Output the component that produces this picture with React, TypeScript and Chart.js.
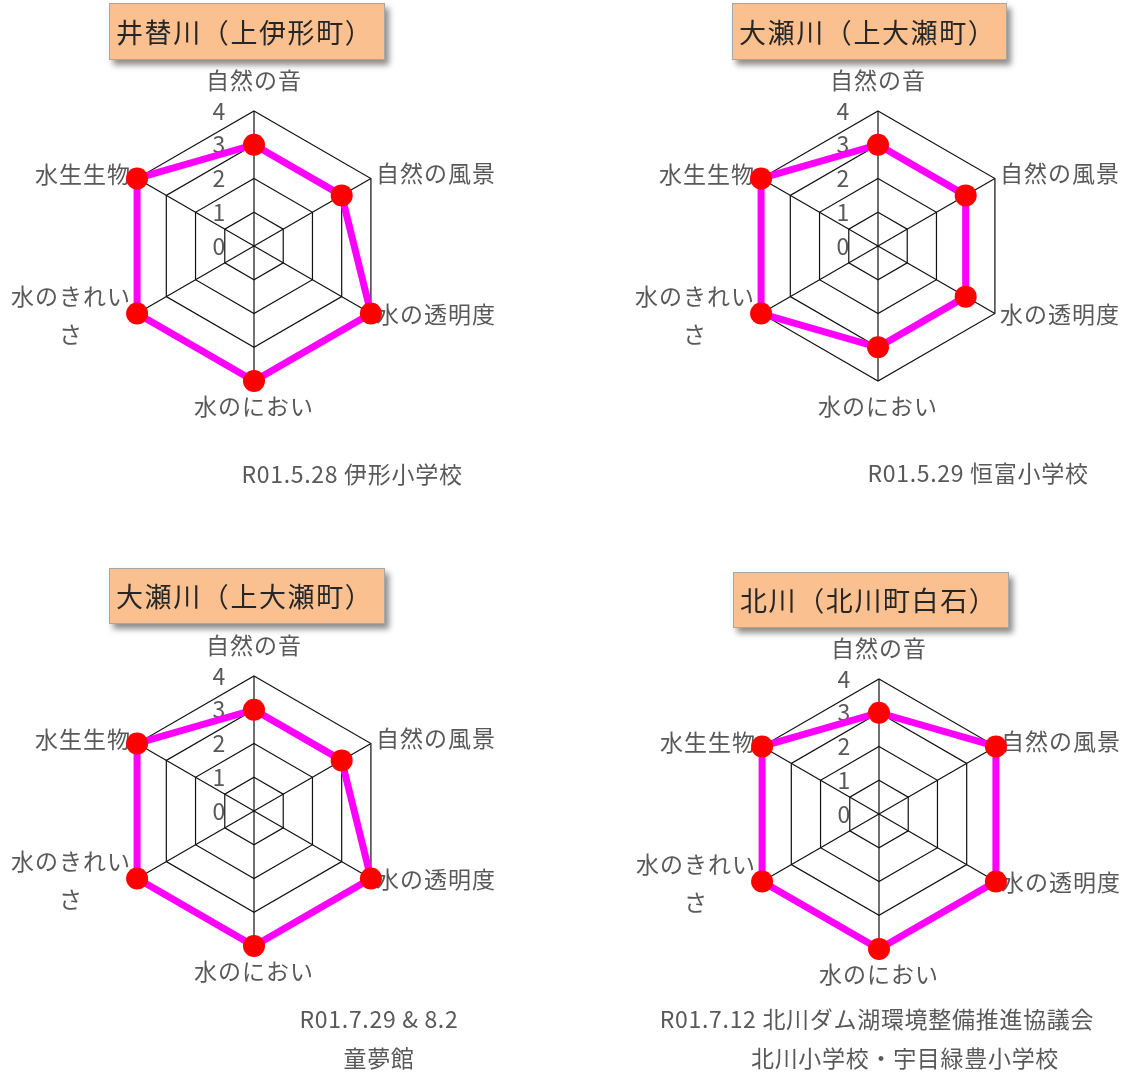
import React, { useEffect, useRef } from "react";
import { Chart, registerables } from "chart.js";

Chart.register(...registerables);

// ---- data ----
const categories: string[][] = [
  ["自然の音"],
  ["自然の風景"],
  ["水の透明度"],
  ["水のにおい"],
  ["水のきれい", "さ"],
  ["水生生物"],
];
const tickValues = [0, 1, 2, 3, 4];
const tickLabels = ["0", "1", "2", "3", "4"];

const titleIgaekawa = "井替川（上伊形町）";
const titleOsegawa1 = "大瀬川（上大瀬町）";
const titleOsegawa2 = "大瀬川（上大瀬町）";
const titleKitagawa = "北川（北川町白石）";

const valuesIgaekawa = [3, 3, 4, 4, 4, 4];
const valuesOsegawa1 = [3, 3, 3, 3, 4, 4];
const valuesOsegawa2 = [3, 3, 4, 4, 4, 4];
const valuesKitagawa = [3, 4, 4, 4, 4, 4];

const noteIgaekawa = ["R01.5.28 伊形小学校"];
const noteOsegawa1 = ["R01.5.29 恒富小学校"];
const noteOsegawa2 = ["R01.7.29 & 8.2", "童夢館"];
const noteKitagawa = ["R01.7.12 北川ダム湖環境整備推進協議会", "北川小学校・宇目緑豊小学校"];

const FONT = "'Noto Sans CJK JP', 'Noto Sans', sans-serif";
const TEXT_COLOR = "#595959";
const GRID_COLOR = "#111111";

const CW = 520;
const CH = 520;
const PAD_X = 125;
const PAD_Y = 125;

const labelPlugin = {
  id: "customLabels",
  beforeDatasetsDraw(chart: any) {
    const scale = chart.scales.r;
    const ctx = chart.ctx;
    ctx.save();
    ctx.font = `23px ${FONT}`;
    ctx.fillStyle = TEXT_COLOR;
    ctx.textBaseline = "middle";
    // tick labels
    tickValues.forEach((v, i) => {
      const d = scale.getDistanceFromCenterForValue(v);
      ctx.textAlign = "center";
      ctx.fillText(tickLabels[i], scale.xCenter - 35, scale.yCenter - d);
    });
    // point labels
    try {
      (ctx as any).letterSpacing = "1px";
    } catch (e) {}
    const labels: string[][] = chart.data.labels;
    labels.forEach((lines, i) => {
      const p = scale.getPointPosition(i, scale.drawingArea);
      const deg = Math.round((scale.getIndexAngle(i) * 180) / Math.PI) % 360;
      const lh = 38;
      const widths = lines.map((l) => ctx.measureText(l).width);
      const maxW = Math.max(...widths);
      let cx = p.x;
      let cy = p.y;
      if (deg === 0) {
        cy = p.y - 31;
      } else if (deg === 180) {
        cy = p.y + 25;
      } else if (deg < 180) {
        cx = p.x + 5 + maxW / 2;
        cy = deg < 90 ? p.y - 5 : p.y + 1;
      } else {
        cx = p.x - 6 - maxW / 2;
        cy = deg > 270 ? p.y - 4 : p.y + 2;
      }
      const startY = cy - ((lines.length - 1) * lh) / 2;
      lines.forEach((l, k) => {
        ctx.textAlign = "center";
        ctx.fillText(l, cx, startY + k * lh);
      });
    });
    ctx.restore();
  },
};

type RadarProps = {
  values: number[];
  cx: number;
  cy: number;
};

function RadarCanvas({ values, cx, cy }: RadarProps) {
  const ref = useRef<HTMLCanvasElement | null>(null);
  useEffect(() => {
    if (!ref.current) return;
    const chart = new Chart(ref.current, {
      type: "radar",
      data: {
        labels: categories as any,
        datasets: [
          {
            data: values,
            borderColor: "#FF00FF",
            borderWidth: 7,
            backgroundColor: "rgba(0,0,0,0)",
            fill: false,
            pointRadius: 11,
            pointBackgroundColor: "#FF0000",
            pointBorderColor: "#FF0000",
            pointBorderWidth: 0,
            pointHoverRadius: 11,
            tension: 0,
            clip: false as any,
          },
        ],
      },
      options: {
        responsive: false,
        animation: false,
        events: [],
        layout: { padding: { left: PAD_X, right: PAD_X, top: PAD_Y, bottom: PAD_Y } },
        plugins: {
          legend: { display: false },
          tooltip: { enabled: false },
          title: { display: false },
        },
        scales: {
          r: {
            min: 0,
            max: 4,
            beginAtZero: true,
            ticks: { display: false, stepSize: 1 },
            grid: { color: GRID_COLOR, lineWidth: 1.2 },
            angleLines: { color: GRID_COLOR, lineWidth: 1.2 },
            pointLabels: { display: false },
          },
        },
      },
      plugins: [labelPlugin],
    } as any);
    return () => chart.destroy();
  }, [values]);
  return (
    <canvas
      ref={ref}
      width={CW}
      height={CH}
      style={{
        position: "absolute",
        left: cx - (PAD_X + 135),
        top: cy - (PAD_Y + 135),
        width: CW,
        height: CH,
      }}
    />
  );
}

function TitleBox({ text, left, top, width, height }: { text: string; left: number; top: number; width: number; height: number }) {
  return (
    <div
      style={{
        position: "absolute",
        left,
        top,
        width,
        height,
        boxSizing: "border-box",
        background: "#FAC090",
        border: "1px solid #A6A6A6",
        boxShadow: "4px 5px 6px rgba(0,0,0,0.45)",
        fontFamily: FONT,
        fontSize: 27,
        letterSpacing: "1.6px",
        color: "#262626",
        lineHeight: `${height - 2}px`,
        paddingLeft: 6,
        whiteSpace: "nowrap",
        zIndex: 2,
      }}
    >
      {text}
    </div>
  );
}

function Note({ text, cx, cy }: { text: string; cx: number; cy: number }) {
  return (
    <div
      style={{
        position: "absolute",
        left: cx - 280,
        top: cy - 20,
        width: 560,
        height: 40,
        lineHeight: "40px",
        textAlign: "center",
        fontFamily: FONT,
        fontSize: 23,
        letterSpacing: "0.7px",
        color: TEXT_COLOR,
        whiteSpace: "nowrap",
        zIndex: 2,
      }}
    >
      {text}
    </div>
  );
}

export default function App() {
  return (
    <div
      style={{
        position: "absolute",
        left: 0,
        top: 0,
        width: 1122,
        height: 1073,
        overflow: "hidden",
        background: "#ffffff",
      }}
    >
      <RadarCanvas values={valuesIgaekawa} cx={254} cy={246} />
      <RadarCanvas values={valuesOsegawa1} cx={878} cy={246} />
      <RadarCanvas values={valuesOsegawa2} cx={254} cy={811} />
      <RadarCanvas values={valuesKitagawa} cx={879} cy={814} />

      <TitleBox text={titleIgaekawa} left={109} top={3} width={276} height={57} />
      <TitleBox text={titleOsegawa1} left={732} top={3} width={275} height={57} />
      <TitleBox text={titleOsegawa2} left={109} top={568} width={276} height={56} />
      <TitleBox text={titleKitagawa} left={733} top={572} width={276} height={56} />

      <Note text={noteIgaekawa[0]} cx={352} cy={473} />
      <Note text={noteOsegawa1[0]} cx={978} cy={472} />
      <Note text={noteOsegawa2[0]} cx={379} cy={1018} />
      <Note text={noteOsegawa2[1]} cx={379} cy={1057} />
      <Note text={noteKitagawa[0]} cx={877} cy={1018} />
      <Note text={noteKitagawa[1]} cx={905} cy={1057} />
    </div>
  );
}
